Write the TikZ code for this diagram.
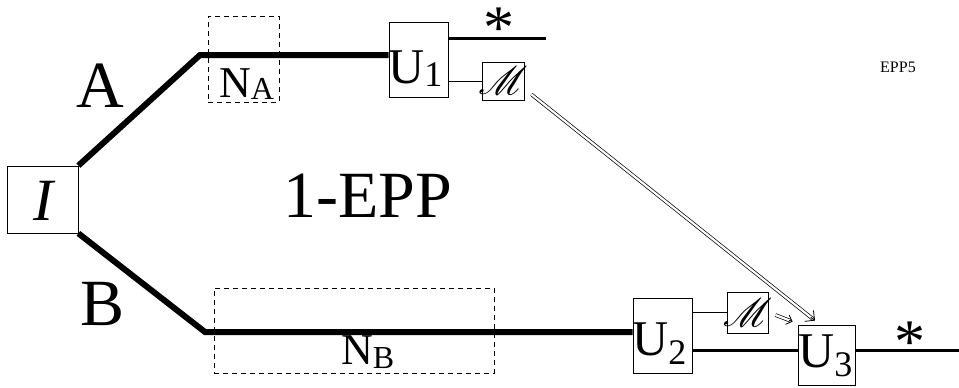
\documentclass[tikz,border=0pt]{standalone}
\usepackage{fontspec}
\setmainfont{Liberation Serif}
\usepackage{mathrsfs}
\usetikzlibrary{arrows.meta}
\newcommand{\fsz}[1]{\fontsize{#1}{#1}\selectfont}
\newcommand{\bigM}{\raisebox{0pt}[26pt][3pt]{\scalebox{1.6}{\fsz{24}$\mathscr{M}$}}}
\newcommand{\starglyph}{\fsz{62}\raisebox{-17pt}[25pt][0pt]{*}}
\tikzset{
  boxnode/.style={draw, line width=0.8pt, inner sep=0pt},
  dashbox/.style={draw, line width=0.8pt, dash pattern=on 5pt off 4pt, inner sep=0pt},
  heavy/.style={line width=6pt},
  medium/.style={line width=3pt},
  light/.style={line width=1pt},
  dblline/.style={double, double distance=2.2pt, line width=0.7pt, shorten >=2.5pt},
  bigbarb/.style={line width=0.8pt, -{Straight Barb[length=7pt,width=14pt]}},
  smallbarb/.style={line width=0.8pt, -{Straight Barb[length=5pt,width=10pt]}},
  txt/.style={inner sep=0pt, anchor=base},
  starnode/.style={inner sep=0pt, anchor=south},
}
\begin{document}
\begin{tikzpicture}[x=1pt,y=-1pt]
\useasboundingbox (0,0) rectangle (959,388);
% boxes
\node[boxnode, minimum width=71pt, minimum height=67pt] (I) at (42.5,199.5) {};
\node[boxnode, minimum width=59pt, minimum height=75pt] (U1) at (418.5,59.5) {};
\node[boxnode, minimum width=42pt, minimum height=38pt] (M1) at (503,81) {};
\node[boxnode, minimum width=59pt, minimum height=75pt] (U2) at (662.5,335.5) {};
\node[boxnode, minimum width=41pt, minimum height=41pt] (M2) at (747.5,312.5) {};
\node[boxnode, minimum width=57pt, minimum height=60pt] (U3) at (826.5,355) {};
\node[dashbox, minimum width=71pt, minimum height=86pt] (NA) at (243.5,59) {};
\node[dashbox, minimum width=280pt, minimum height=85pt] (NB) at (354,330.5) {};
% texts
\node[txt] (It) at (43,220) {\fsz{60}\itshape I};
\node[txt, anchor=base west] (U1t) at (388,83) {\fsz{50}U\raisebox{-3pt}{\fsz{36}1}};
\node[txt, anchor=base west] (U2t) at (632,355) {\fsz{50}U\raisebox{-9pt}{\fsz{36}2}};
\node[txt, anchor=base west] (U3t) at (798,367) {\fsz{50}U\raisebox{-9pt}{\fsz{36}3}};
\node[txt] (M1t) at (503,94) {\bigM};
\node[txt] (M2t) at (747.5,326) {\bigM};
\node[txt, anchor=base west] (NAt) at (219,97) {\fsz{44}N\raisebox{-2pt}{\fsz{32}A}};
\node[txt, anchor=base west] (NBt) at (341,364) {\fsz{44}N\raisebox{-4pt}{\fsz{32}B}};
\node[txt] (At) at (100,107) {\fsz{66}A};
\node[txt] (Bt) at (103,325) {\fsz{66}B};
\node[txt] (EPP) at (368,217) {\fsz{66}1-EPP};
\node[txt] (EPP5) at (898,72) {\fsz{16}EPP5};
\node[starnode] (star1) at (499,32) {\starglyph};
\node[starnode] (star2) at (910,346) {\starglyph};
% coordinates
\coordinate (a1) at (200,55);
\coordinate (b1) at (205,332);
\coordinate (s1) at (546,38);
\coordinate (l3) at (959,350);
\coordinate (ar1s) at ([xshift=7pt,yshift=6pt]M1.south east);
\coordinate (ar1e) at ([xshift=-11.5pt,yshift=4pt]U3.north);
\coordinate (ar2s) at ([xshift=7pt,yshift=-2.5pt]M2.east);
\coordinate (ar2e) at ([xshift=-5pt,yshift=3pt]U3.north west);
\path (ar1s) -- (ar1e) coordinate[pos=0.985] (ar1h);
\path (ar2s) -- (ar2e) coordinate[pos=0.8] (ar2h);
% connectors
\draw[heavy] (I.north east) -- (a1) -- (U1.west |- a1);
\draw[heavy] (I.south east) -- (b1) -- (U2.west |- b1);
\draw[medium] (U1.east |- s1) -- (s1);
\draw[light] (U1.east |- M1.west) -- (M1.west);
\draw[light] (U2.east |- M2.west) -- (M2.west);
\draw[medium] (U2.east |- l3) -- (U3.west |- l3);
\draw[medium] (U3.east |- l3) -- (l3);
\draw[dblline] (ar1s) -- (ar1e);
\draw[bigbarb] (ar1h) -- (ar1e);
\draw[dblline] (ar2s) -- (ar2e);
\draw[smallbarb] (ar2h) -- (ar2e);
\end{tikzpicture}
\end{document}
